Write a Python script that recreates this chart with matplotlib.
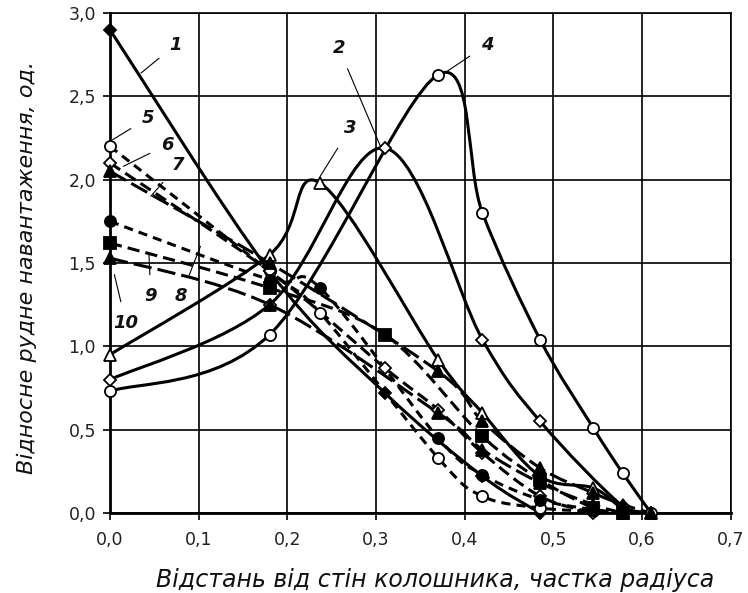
import matplotlib.pyplot as plt
from matplotlib.path import Path
from matplotlib.patches import PathPatch
from matplotlib.ticker import FuncFormatter

plt.rcParams['font.family'] = ['DejaVu Sans']

# Data
x1 = [0.0, 0.18, 0.31, 0.42, 0.485]
y1 = [2.90, 1.45, 0.72, 0.22, 0.0]
x2 = [0.0, 0.18, 0.31, 0.42, 0.485, 0.578, 0.61]
y2 = [0.80, 1.25, 2.19, 1.04, 0.55, 0.04, 0.0]
x3 = [0.0, 0.18, 0.237, 0.37, 0.42, 0.485, 0.545, 0.578, 0.61]
y3 = [0.95, 1.55, 1.98, 0.92, 0.60, 0.22, 0.15, 0.03, 0.0]
x4 = [0.0, 0.18, 0.37, 0.42, 0.485, 0.545, 0.578, 0.61]
y4 = [0.73, 1.07, 2.63, 1.80, 1.04, 0.51, 0.24, 0.0]
x5 = [0.0, 0.18, 0.237, 0.37, 0.42, 0.485, 0.545]
y5 = [2.20, 1.45, 1.20, 0.33, 0.10, 0.03, 0.01]
x6 = [0.0, 0.18, 0.31, 0.37, 0.42, 0.485, 0.545]
y6 = [2.10, 1.45, 0.87, 0.62, 0.36, 0.10, 0.0]
x7 = [0.0, 0.18, 0.37, 0.42, 0.485, 0.545, 0.578, 0.61]
y7 = [2.05, 1.50, 0.85, 0.55, 0.27, 0.12, 0.05, 0.0]
x8 = [0.0, 0.18, 0.237, 0.37, 0.42, 0.485, 0.545, 0.578]
y8 = [1.75, 1.40, 1.35, 0.45, 0.23, 0.08, 0.02, 0.0]
x9 = [0.0, 0.18, 0.31, 0.42, 0.485, 0.545, 0.578]
y9 = [1.62, 1.35, 1.07, 0.46, 0.20, 0.03, 0.0]
x10 = [0.0, 0.18, 0.37, 0.42, 0.485, 0.545, 0.578]
y10 = [1.53, 1.25, 0.60, 0.38, 0.18, 0.05, 0.0]

series = [
    (x1, y1, '-', 'D', 'black'),
    (x2, y2, '-', 'D', 'white'),
    (x3, y3, '-', '^', 'white'),
    (x4, y4, '-', 'o', 'white'),
    (x5, y5, (0, (3, 2)), 'o', 'white'),
    (x6, y6, (0, (4, 2)), 'D', 'white'),
    (x7, y7, (0, (6, 2)), '^', 'black'),
    (x8, y8, (0, (3, 2)), 'o', 'black'),
    (x9, y9, (0, (4, 2)), 's', 'black'),
    (x10, y10, (0, (6, 2)), '^', 'black'),
]

# curve labels: text, text position, leader end
labels = [
    ('1', (0.074, 2.81), (0.035, 2.64)),
    ('2', (0.258, 2.79), (0.305, 2.20)),
    ('3', (0.271, 2.31), (0.237, 2.02)),
    ('4', (0.425, 2.81), (0.380, 2.65)),
    ('5', (0.043, 2.37), (0.003, 2.24)),
    ('6', (0.065, 2.21), (0.015, 2.08)),
    ('7', (0.077, 2.09), (0.046, 1.90)),
    ('8', (0.080, 1.30), (0.102, 1.60)),
    ('9', (0.046, 1.30), (0.044, 1.55)),
    ('10', (0.018, 1.14), (0.005, 1.43)),
]


def smooth_path(xs, ys):
    # Catmull-Rom style bezier, like a smoothed spreadsheet line
    pts = list(zip(xs, ys))
    n = len(pts)
    verts = [pts[0]]
    codes = [Path.MOVETO]
    for i in range(n - 1):
        p0 = pts[max(i - 1, 0)]
        p1 = pts[i]
        p2 = pts[i + 1]
        p3 = pts[min(i + 2, n - 1)]
        c1 = (p1[0] + (p2[0] - p0[0]) / 6, p1[1] + (p2[1] - p0[1]) / 6)
        c2 = (p2[0] - (p3[0] - p1[0]) / 6, p2[1] - (p3[1] - p1[1]) / 6)
        verts += [c1, c2, p2]
        codes += [Path.CURVE4] * 3
    return Path(verts, codes)


fig = plt.figure(figsize=(7.48, 5.93), dpi=100)
ax = fig.add_axes([0.147, 0.135, 0.83, 0.843])

for xs, ys, ls, mk, fc in series:
    ax.add_patch(PathPatch(smooth_path(xs, ys), fill=False, lw=2.2,
                           ls=ls, edgecolor='black', zorder=3))
    ax.plot(xs, ys, ls='none', marker=mk, ms=8 if mk != 'D' else 6.5,
            mfc=fc, mec='black', mew=1.3, zorder=4, clip_on=False)

for txt, tpos, end in labels:
    ax.annotate(txt, xy=end, xytext=tpos, fontsize=13, fontweight='bold',
                fontstyle='italic', ha='center', va='center', zorder=5,
                color='#111111',
                arrowprops=dict(arrowstyle='-', lw=0.8, color='black',
                                shrinkA=7, shrinkB=0))

ax.set_xlim(0, 0.7)
ax.set_ylim(0, 3.0)
ax.set_xticks([0.0, 0.1, 0.2, 0.3, 0.4, 0.5, 0.6, 0.7])
ax.set_yticks([0.0, 0.5, 1.0, 1.5, 2.0, 2.5, 3.0])
fmt = FuncFormatter(lambda v, p: f'{v:.1f}'.replace('.', ','))
ax.xaxis.set_major_formatter(fmt)
ax.yaxis.set_major_formatter(fmt)
ax.tick_params(labelsize=12.5, labelcolor='#222222', direction='out',
               length=5, width=1.2)
ax.tick_params(axis='x', pad=8)
ax.tick_params(axis='y', pad=5)
ax.grid(True, color='black', lw=1.2)
ax.set_axisbelow(True)
for side in ['top', 'right']:
    ax.spines[side].set_linewidth(1.2)
for side in ['left', 'bottom']:
    ax.spines[side].set_linewidth(2)

ax.set_xlabel('Відстань від стін колошника, частка радіуса', fontsize=17,
              fontstyle='italic', color='#111111')
ax.set_ylabel('Відносне рудне навантаження, од.', fontsize=16,
              fontstyle='italic', color='#111111')
ax.xaxis.set_label_coords(0.523, -0.11)
ax.yaxis.set_label_coords(-0.118, 0.49)

fig.savefig('out.png', dpi=100)
